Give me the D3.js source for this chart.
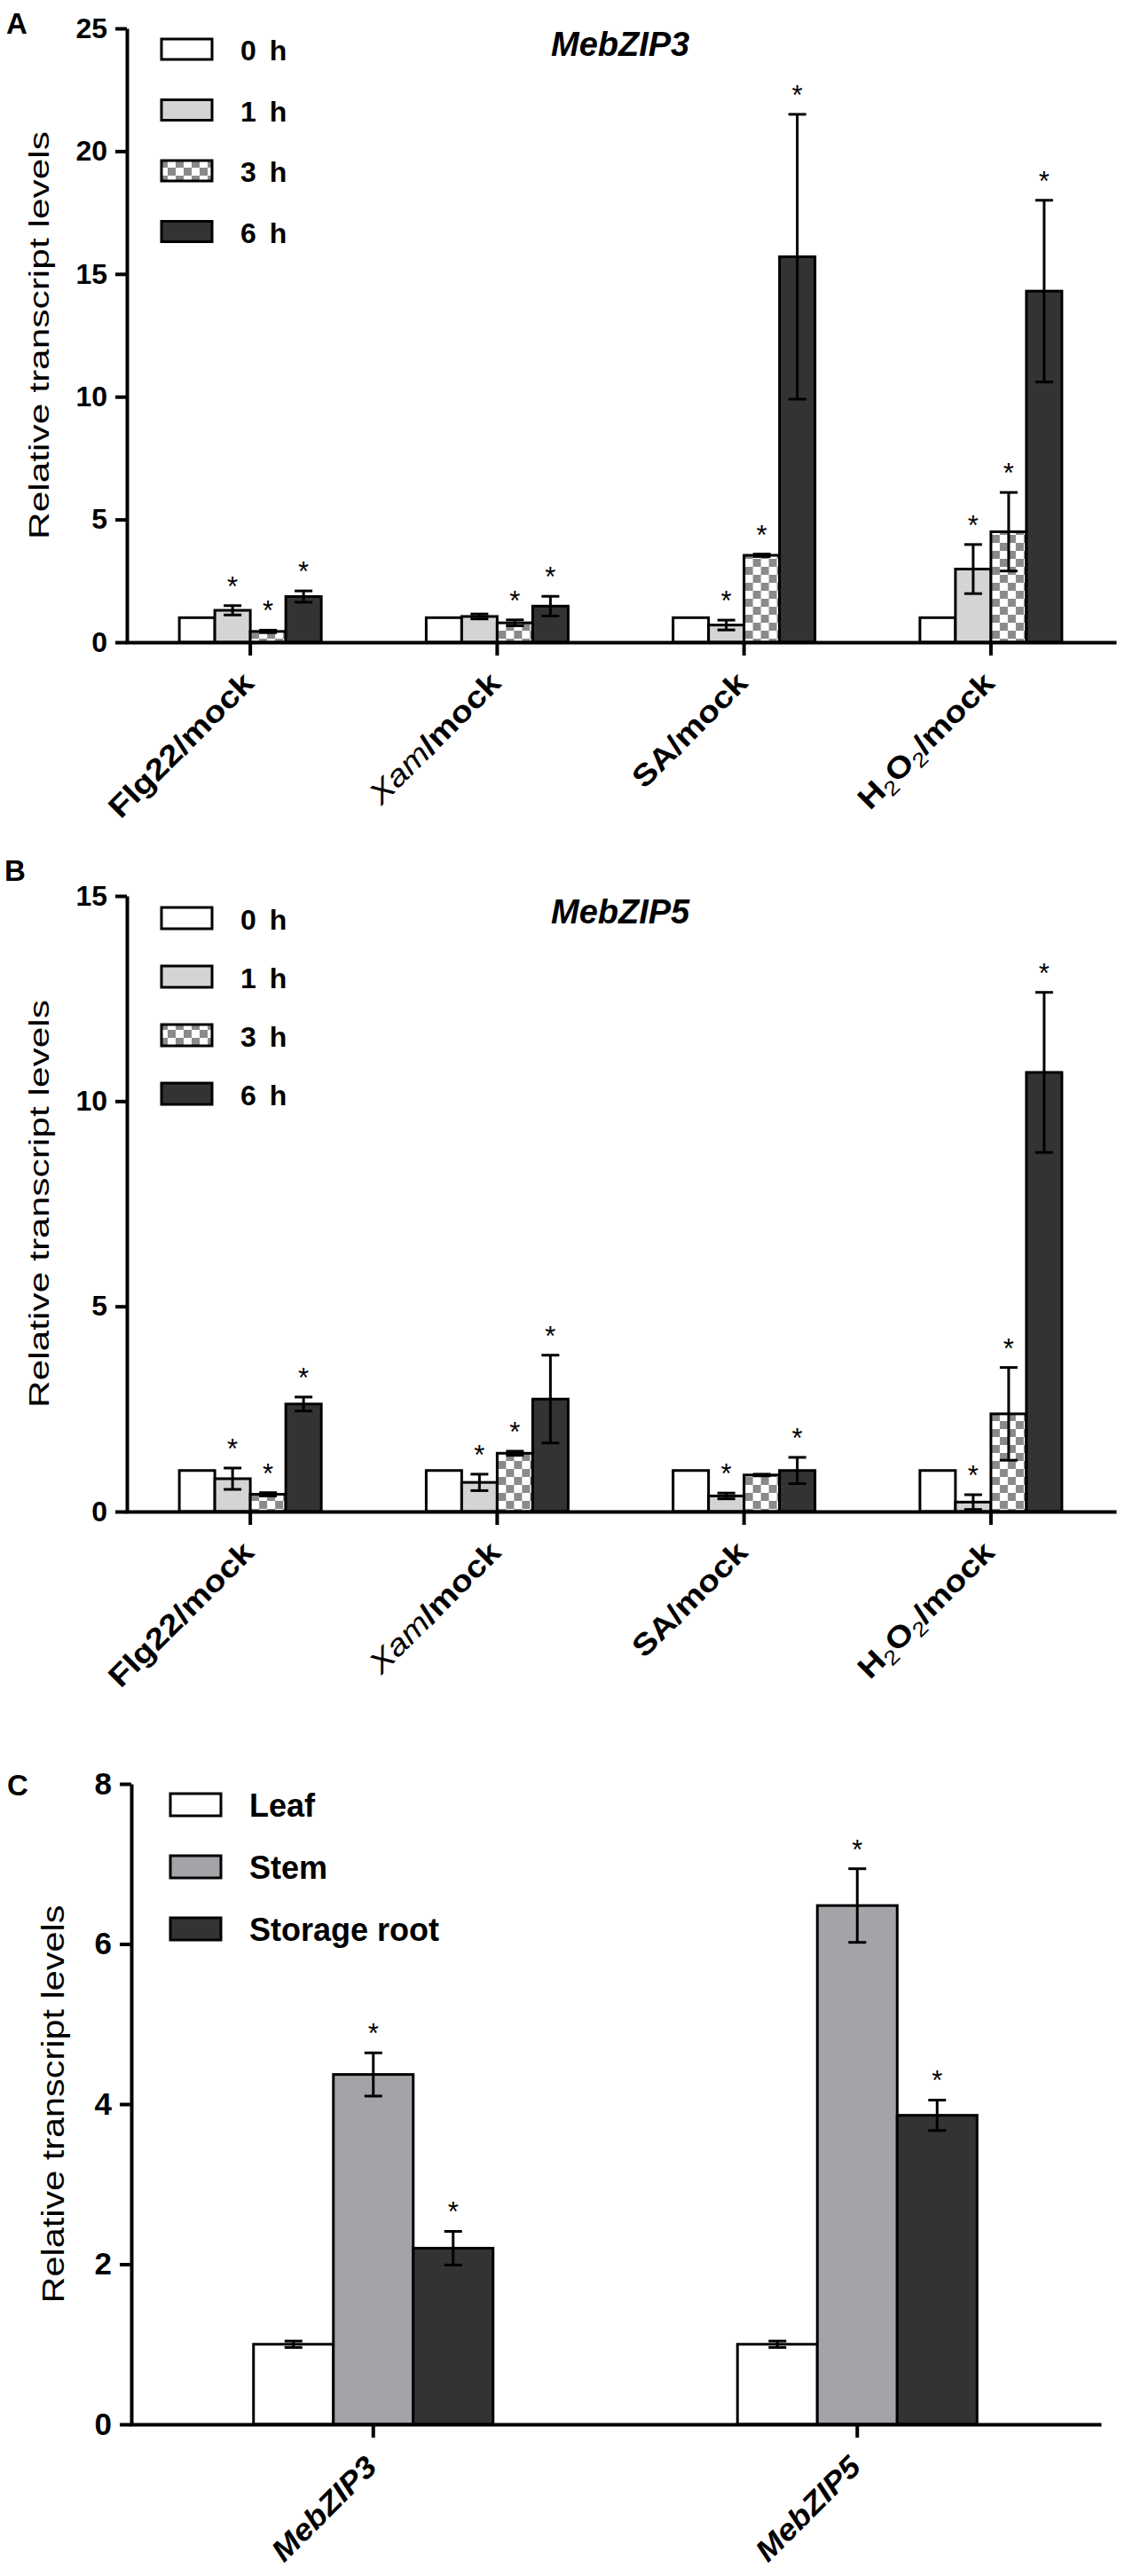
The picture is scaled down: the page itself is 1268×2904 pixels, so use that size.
<!DOCTYPE html>
<html>
<head>
<meta charset="utf-8">
<script src="https://cdn.jsdelivr.net/npm/d3@7"></script>
<style>
  body { margin: 0; background: #fff; }
  text { font-family: "Liberation Sans", Arial, sans-serif; fill: #000; }
</style>
</head>
<body>
<svg id="fig"></svg>
<script>
// ---- data ----
const treatments = ["Flg22/mock", "Xam/mock", "SA/mock", "H2O2/mock"];
const timePoints = ["0 h", "1 h", "3 h", "6 h"];

// MebZIP3, rows = treatments, cols = time points
const zip3Means  = [[1, 1.30, 0.44, 1.86], [1, 1.05, 0.79, 1.47], [1, 0.70, 3.54, 15.7], [1, 2.98, 4.50, 14.3]];
const zip3Errors = [[0, 0.19, 0.05, 0.23], [0, 0.10, 0.12, 0.40], [0, 0.20, 0.05, 5.80], [0, 1.00, 1.60, 3.70]];
const zip3Stars  = [[0, 1, 1, 1], [0, 0, 1, 1], [0, 1, 1, 1], [0, 1, 1, 1]];

// MebZIP5
const zip5Means  = [[1, 0.80, 0.42, 2.62], [1, 0.71, 1.42, 2.74], [1, 0.38, 0.89, 1.00], [1, 0.23, 2.38, 10.7]];
const zip5Errors = [[0, 0.26, 0.04, 0.17], [0, 0.20, 0.05, 1.07], [0, 0.07, 0.02, 0.32], [0, 0.18, 1.13, 1.95]];
const zip5Stars  = [[0, 1, 1, 1], [0, 1, 1, 1], [0, 1, 0, 1], [0, 1, 1, 1]];

// tissue expression
const genes = ["MebZIP3", "MebZIP5"];
const tissues = ["Leaf", "Stem", "Storage root"];
const tissueMeans  = [[1, 4.37, 2.20], [1, 6.48, 3.86]];
const tissueErrors = [[0.04, 0.27, 0.21], [0.04, 0.46, 0.19]];
const tissueStars  = [[0, 1, 1], [0, 1, 1]];

const ticksA = [0, 5, 10, 15, 20, 25];
const ticksB = [0, 5, 10, 15];
const ticksC = [0, 2, 4, 6, 8];

// ---- drawing ----
const W = 1268, H = 2904;
const svg = d3.select("#fig").attr("width", W).attr("height", H);
svg.append("rect").attr("width", W).attr("height", H).attr("fill", "#fff");

const defs = svg.append("defs");
const pat = defs.append("pattern").attr("id", "checker")
  .attr("patternUnits", "userSpaceOnUse").attr("width", 18).attr("height", 18);
pat.append("rect").attr("width", 18).attr("height", 18).attr("fill", "#fff");
pat.append("rect").attr("width", 9).attr("height", 9).attr("fill", "#8a8a8a");
pat.append("rect").attr("x", 9).attr("y", 9).attr("width", 9).attr("height", 9).attr("fill", "#8a8a8a");

const timeFills = ["#ffffff", "#d4d4d4", "url(#checker)", "#333333"];
const tissueFills = ["#ffffff", "#a3a3a8", "#333333"];

// how each category name is typeset (italics, subscripts)
function labelParts(name) {
  if (name === "Xam/mock") return [["Xam", "italic"], ["/mock", "bold"]];
  if (name === "H2O2/mock") return [["H", "bold"], ["2", "sub"], ["O", "bold"], ["2", "sub"], ["/mock", "bold"]];
  if (name.startsWith("MebZIP")) return [[name, "bolditalic"]];
  return [[name, "bold"]];
}

function drawPanel(cfg) {
  const g = svg.append("g");
  const x0 = d3.scaleBand().domain(cfg.cats).range([cfg.left, cfg.right])
    .paddingInner(cfg.pad).paddingOuter(cfg.pad / 2);
  const x1 = d3.scaleBand().domain(cfg.series).range([0, x0.bandwidth()]);
  const y = d3.scaleLinear().domain([0, cfg.max]).range([cfg.bottom, cfg.top]);

  cfg.cats.forEach((c, i) => {
    const rows = cfg.series.map((s, j) => ({
      s, v: cfg.means[i][j], e: cfg.errors[i][j], star: cfg.stars[i][j], fill: cfg.fills[j]
    }));
    const grp = g.append("g").attr("transform", `translate(${x0(c)},0)`);
    grp.selectAll("rect.bar").data(rows).join("rect")
      .attr("class", "bar")
      .attr("x", d => x1(d.s)).attr("y", d => y(d.v))
      .attr("width", x1.bandwidth()).attr("height", d => y(0) - y(d.v))
      .attr("fill", d => d.fill).attr("stroke", "#000").attr("stroke-width", 3);

    const eb = rows.filter(d => d.e > 0);
    const cx = d => x1(d.s) + x1.bandwidth() / 2;
    grp.selectAll("line.ev").data(eb).join("line").attr("class", "ev")
      .attr("x1", cx).attr("x2", cx)
      .attr("y1", d => y(d.v - d.e)).attr("y2", d => y(d.v + d.e))
      .attr("stroke", "#000").attr("stroke-width", 3);
    grp.selectAll("line.cap1").data(eb).join("line").attr("class", "cap1")
      .attr("x1", d => cx(d) - 10).attr("x2", d => cx(d) + 10)
      .attr("y1", d => y(d.v + d.e)).attr("y2", d => y(d.v + d.e))
      .attr("stroke", "#000").attr("stroke-width", 3);
    grp.selectAll("line.cap2").data(eb).join("line").attr("class", "cap2")
      .attr("x1", d => cx(d) - 10).attr("x2", d => cx(d) + 10)
      .attr("y1", d => y(d.v - d.e)).attr("y2", d => y(d.v - d.e))
      .attr("stroke", "#000").attr("stroke-width", 3);

    grp.selectAll("text.star").data(rows.filter(d => d.star)).join("text").attr("class", "star")
      .attr("x", cx).attr("y", d => y(d.v + d.e) - 11)
      .attr("text-anchor", "middle").attr("font-size", 31).text("*");
  });

  // axes
  const yAxis = g.append("g").attr("transform", `translate(${cfg.left},0)`)
    .call(d3.axisLeft(y).tickValues(cfg.ticks).tickSize(13).tickSizeOuter(0).tickPadding(9));
  yAxis.selectAll("text").attr("font-size", cfg.tickFont).attr("font-family", null)
    .attr("font-weight", "bold");
  yAxis.selectAll("line").attr("stroke-width", 4);
  yAxis.select(".domain").attr("stroke-width", 4);

  const xAxis = g.append("g").attr("transform", `translate(0,${y(0)})`)
    .call(d3.axisBottom(x0).tickSize(15).tickSizeOuter(0).tickFormat(""));
  xAxis.selectAll("line").attr("stroke-width", 4);
  xAxis.select(".domain").attr("stroke-width", 4).attr("stroke-linecap", "square");

  // rotated category labels
  cfg.cats.forEach(c => {
    const t = g.append("text")
      .attr("transform", `translate(${x0(c) + x0.bandwidth() / 2 + cfg.labDx},${y(0) + cfg.labDy}) rotate(-45) scale(${cfg.labStretch},1)`)
      .attr("text-anchor", "end").attr("font-size", cfg.labFont);
    let prevSub = false;
    labelParts(c).forEach(([txt, st]) => {
      const ts = t.append("tspan").text(txt);
      if (st === "bold") ts.attr("font-weight", "bold");
      if (st === "italic") ts.attr("font-style", "italic");
      if (st === "bolditalic") ts.attr("font-weight", "bold").attr("font-style", "italic");
      if (st === "sub") {
        ts.attr("font-size", cfg.labFont * 0.68).attr("dy", prevSub ? 0 : 7);
        prevSub = true;
      } else {
        if (prevSub) ts.attr("dy", -7);
        prevSub = false;
      }
    });
  });

  // y label
  g.append("text")
    .attr("transform", `translate(${cfg.ylabX},${(cfg.top + cfg.bottom) / 2}) rotate(-90)`)
    .attr("text-anchor", "middle").attr("font-size", cfg.ylabFont)
    .attr("textLength", cfg.ylabLen).attr("lengthAdjust", "spacingAndGlyphs")
    .text("Relative transcript levels");

  // legend
  const lg = g.append("g");
  cfg.series.forEach((s, j) => {
    const ly = cfg.legTop + j * cfg.legStep;
    lg.append("rect").attr("x", cfg.legX).attr("y", ly).attr("width", 57).attr("height", cfg.legH)
      .attr("fill", cfg.fills[j]).attr("stroke", "#000").attr("stroke-width", 3);
    lg.append("text").attr("x", cfg.legTextX).attr("y", ly + cfg.legH + 1)
      .attr("font-size", cfg.legFont).attr("font-weight", "bold")
      .attr("word-spacing", cfg.wordSpacing || 0).text(s);
  });

  // panel letter and title
  g.append("text").attr("x", cfg.letterX).attr("y", cfg.letterY)
    .attr("font-size", 33).attr("font-weight", "bold").text(cfg.letter);
  if (cfg.title) {
    g.append("text").attr("x", 621).attr("y", cfg.titleY)
      .attr("font-size", 38).attr("font-weight", "bold").attr("font-style", "italic").text(cfg.title);
  }
}

drawPanel({
  cats: treatments, series: timePoints, fills: timeFills,
  means: zip3Means, errors: zip3Errors, stars: zip3Stars,
  left: 143, right: 1256, top: 32, bottom: 724, max: 25, ticks: ticksA, pad: 0.425,
  tickFont: 32, labFont: 34, labStretch: 1.15, labDx: 6, labDy: 48,
  ylabX: 55, ylabFont: 31, ylabLen: 460,
  legX: 182, legTop: 44, legStep: 68.5, legH: 23, legTextX: 271, legFont: 32, wordSpacing: 6,
  letter: "A", letterX: 7, letterY: 38, title: "MebZIP3", titleY: 63
});

drawPanel({
  cats: treatments, series: timePoints, fills: timeFills,
  means: zip5Means, errors: zip5Errors, stars: zip5Stars,
  left: 143, right: 1256, top: 1010, bottom: 1704, max: 15, ticks: ticksB, pad: 0.425,
  tickFont: 32, labFont: 34, labStretch: 1.15, labDx: 6, labDy: 48,
  ylabX: 55, ylabFont: 31, ylabLen: 460,
  legX: 182, legTop: 1023, legStep: 66, legH: 24, legTextX: 271, legFont: 32, wordSpacing: 6,
  letter: "B", letterX: 5, letterY: 993, title: "MebZIP5", titleY: 1041
});

drawPanel({
  cats: genes, series: tissues, fills: tissueFills,
  means: tissueMeans, errors: tissueErrors, stars: tissueStars,
  left: 148, right: 1239, top: 2011, bottom: 2733, max: 8, ticks: ticksC, pad: 0.505,
  tickFont: 35, labFont: 34, labStretch: 1.08, labDx: 6, labDy: 50,
  ylabX: 72, ylabFont: 35, ylabLen: 449,
  legX: 192, legTop: 2022, legStep: 70, legH: 25, legTextX: 281, legFont: 36,
  letter: "C", letterX: 8, letterY: 2024, title: null
});
</script>
</body>
</html>
